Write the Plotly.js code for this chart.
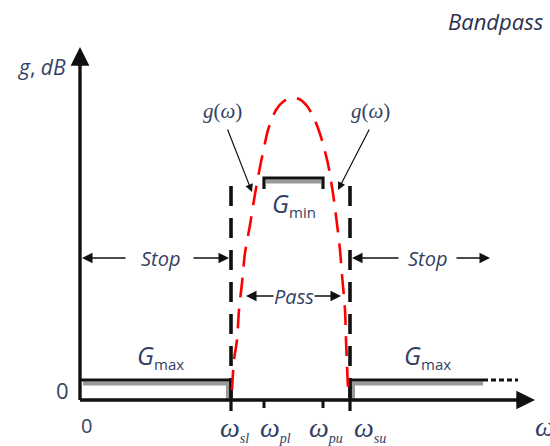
<!DOCTYPE html>
<html>
<head>
<meta charset="utf-8">
<script src="https://cdn.plot.ly/plotly-3.0.1.min.js"></script>
<style>
  html, body { margin: 0; padding: 0; background: #ffffff; }
  #chart { width: 550px; height: 446px; }
</style>
</head>
<body>
<div id="chart"></div>
<script>
// Band edge frequencies (arbitrary omega units) and their labels
const edgeOmega = [15.1, 18.4, 24.3, 27.0];
const edgeLabels = ['sl', 'pl', 'pu', 'su'];

// Gain levels (dB)
const gainMax = 2.0;    // G_max, stopband ceiling
const gainMin = 22.2;   // G_min, passband floor

// Filter response g(omega)
const respOmega = [15.2, 15.4, 15.7, 15.9, 16.2, 16.5, 17.0, 17.5, 18.0, 18.4, 18.8, 19.6, 20.4, 21.1,
                   21.9, 22.7, 23.3, 23.9, 24.3, 24.8, 25.2, 25.5, 26.0, 26.2, 26.5, 26.6, 26.7, 26.8];
const respGain  = [1.0, 4.0, 6.0, 9.0, 11.7, 14.7, 17.5, 20.6, 23.3, 25.2, 27.0, 29.0, 29.9, 30.2,
                   30.1, 29.4, 28.4, 26.9, 25.6, 23.6, 21.3, 19.2, 15.0, 12.5, 9.0, 6.0, 3.5, 1.0];

// Extent of the drawn axes
const omegaAxisEnd = 45.5;
const gainAxisEnd = 35.3;
const stopRightEnd = 40.3;     // solid part of the upper stopband line
const stopRightDashEnd = 43.8; // dotted continuation

const sl = edgeOmega[0], pl = edgeOmega[1], pu = edgeOmega[2], su = edgeOmega[3];

const textColor = '#333f63';
const sansItalic = 'Open Sans, DejaVu Sans, sans-serif';
const serif = 'Liberation Serif, DejaVu Serif, serif';

const traces = [];
function seg(xs, ys, color, width, dash) {
  traces.push({
    x: xs, y: ys, mode: 'lines', hoverinfo: 'skip',
    line: { color: color, width: width, dash: dash || 'solid' }
  });
}

// Grey shading under the stopband and passband limit lines
seg([0.3, sl - 0.3, sl - 0.3], [gainMax - 0.35, gainMax - 0.35, 0.1], '#9a9a9a', 4);
seg([su + 0.3, su + 0.3, stopRightEnd], [0.1, gainMax - 0.35, gainMax - 0.35], '#9a9a9a', 4);
seg([pl + 0.2, pu - 0.2], [gainMin - 0.35, gainMin - 0.35], '#9a9a9a', 4);

// Stopband limit G_max (left and right)
seg([0, sl, sl], [gainMax, gainMax, 0], '#111111', 3.2);
seg([su, su, stopRightEnd], [0, gainMax, gainMax], '#111111', 3.2);
seg([stopRightEnd, stopRightDashEnd], [gainMax, gainMax], '#111111', 3.2, '5px,3px');

// Passband limit G_min bracket
seg([pl, pl, pu, pu], [gainMin - 1.1, gainMin, gainMin, gainMin - 1.1], '#111111', 3.2);

// Band edge markers (dashed) at omega_sl and omega_su
seg([sl, sl], [21.4, 0], '#111111', 3.6, '20px,12px');
seg([su, su], [21.4, 0], '#111111', 3.6, '20px,12px');

// Ticks below the omega axis
seg([sl, sl], [0, -1.1], '#111111', 3.2);
seg([su, su], [0, -1.1], '#111111', 3.2);
seg([pl, pl], [0, -0.8], '#111111', 3);
seg([pu, pu], [0, -0.8], '#111111', 3);

// Response curve
traces.push({
  x: respOmega, y: respGain, mode: 'lines', hoverinfo: 'skip',
  line: { color: '#ff0000', width: 2.6, dash: '20px,11px', shape: 'spline', smoothing: 0.8 }
});

// Axis lines (arrowheads are added as annotations below)
seg([0, 0], [gainAxisEnd - 1.0, 0], '#111111', 3.4);
seg([0, omegaAxisEnd - 1.0], [0, 0], '#111111', 3.4);

const ann = [];
function text(x, y, t, size, family, opts) {
  ann.push(Object.assign({
    x: x, y: y, xref: 'x', yref: 'y', text: t, showarrow: false,
    font: { size: size, family: family, color: textColor }
  }, opts || {}));
}
function arrow(x0, y0, x1, y1, width, size) {
  ann.push({
    x: x1, y: y1, ax: x0, ay: y0, xref: 'x', yref: 'y', axref: 'x', ayref: 'y',
    text: '', showarrow: true, arrowhead: 2, arrowsize: size, arrowwidth: width,
    arrowcolor: '#111111', standoff: 0, startstandoff: 0
  });
}

// Axis arrowheads
arrow(0, gainAxisEnd - 2.0, 0, gainAxisEnd, 3.4, 1.1);
arrow(omegaAxisEnd - 2.0, 0, omegaAxisEnd, 0, 3.4, 1.1);

// g(omega) callout arrows
arrow(14.7, 27.2, 17.2, 20.8, 1.2, 1.3);
arrow(29.0, 27.2, 25.8, 21.0, 1.2, 1.3);

// Stop / Pass band span arrows
const bandY = 14.2;
const passY = 10.4;
arrow(4.7, bandY, 0.2, bandY, 1.5, 1.4);
arrow(11.2, bandY, sl - 0.2, bandY, 1.5, 1.4);
arrow(32.0, bandY, su + 0.2, bandY, 1.5, 1.4);
arrow(37.5, bandY, 41.0, bandY, 1.5, 1.4);
arrow(19.5, passY, 16.6, passY, 1.5, 1.4);
arrow(23.3, passY, 26.1, passY, 1.5, 1.4);

// Axis titles and origin labels
text(-3.8, 33.3, '<i>g</i>, <i>dB</i>', 21, sansItalic);
text(41.6, 37.9, '<i>Bandpass</i>', 22, sansItalic, { font: { size: 22, family: sansItalic, color: '#2a3150' } });
text(-1.8, 1.0, '0', 22, 'Open Sans, sans-serif');
text(0.6, -2.5, '0', 20, 'Open Sans, sans-serif');

// Band edge frequency labels (left-anchored just beside each tick)
const labelOffset = [-1.3, -0.6, -1.6, 0.2];
edgeOmega.forEach(function (w, i) {
  text(w + labelOffset[i], -2.9,
       '<i>ω</i><sub><span style="font-size:14px"><i>' + edgeLabels[i] + '</i></span></sub>',
       28, serif, { xanchor: 'left' });
});
text(45.3, -2.6, '<i>ω</i>', 28, serif, { xanchor: 'left' });

// g(omega) callouts
text(14.2, 28.9, '<i>g</i>(<i>ω</i>)', 21, serif);
text(29.0, 28.9, '<i>g</i>(<i>ω</i>)', 21, serif);

// Stop / Pass labels
text(8.0, bandY, '<i>Stop</i>', 20, sansItalic);
text(34.7, bandY, '<i>Stop</i>', 20, sansItalic);
text(21.4, passY, '<i>Pass</i>', 20, sansItalic);

// Limit labels
const sub = function (s) { return '<sub><span style="font-size:15px">' + s + '</span></sub>'; };
text(21.4, 19.6, '<i>G</i>' + sub('min'), 25, sansItalic);
text(8.0, 4.4, '<i>G</i>' + sub('max'), 25, sansItalic);
text(34.7, 4.4, '<i>G</i>' + sub('max'), 25, sansItalic);

const layout = {
  width: 550, height: 446,
  margin: { l: 0, r: 0, t: 0, b: 0 },
  paper_bgcolor: '#ffffff', plot_bgcolor: '#ffffff',
  showlegend: false,
  xaxis: { range: [-8, 47], visible: false, fixedrange: true },
  yaxis: { range: [-4.6, 40], visible: false, fixedrange: true },
  annotations: ann
};

Plotly.newPlot('chart', traces, layout, { staticPlot: true, displayModeBar: false });
</script>
</body>
</html>
